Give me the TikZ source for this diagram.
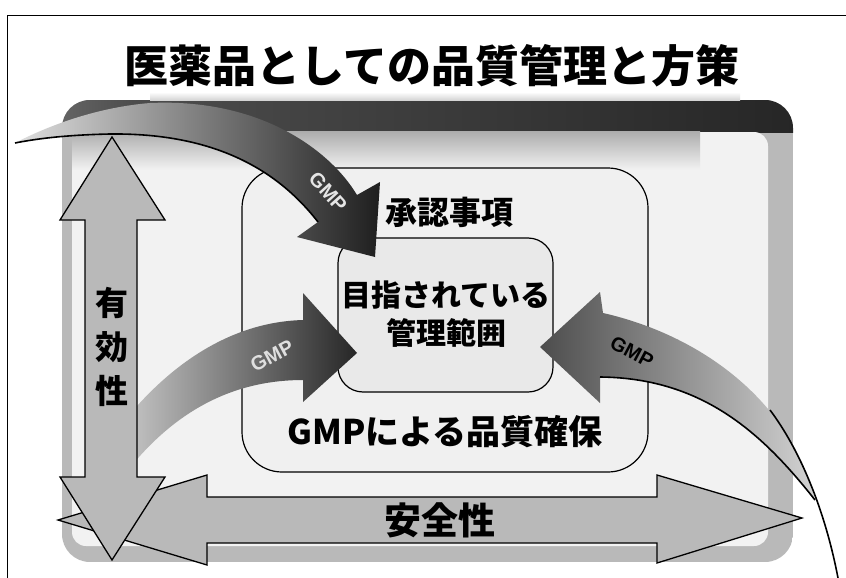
\documentclass[tikz,border=0pt]{standalone}
\usepackage{fontspec}
\newfontfamily\jp{Noto Sans CJK JP}
\newfontfamily\lat{Liberation Sans}
\pgfdeclarehorizontalshading{topband}{100bp}{color(0bp)=(gray!30); color(30bp)=(black!70); color(75bp)=(black!85); color(92bp)=(black!70); color(100bp)=(gray!60)}
\begin{document}
\begin{tikzpicture}[x=1pt,y=-1pt,
  jptext/.style={font={\jp\bfseries\fontsize{#1}{#1}\selectfont}, inner sep=0pt},
  gmplabel/.style={font={\lat\bfseries\fontsize{20}{20}\selectfont}, inner sep=0pt},
  boxline/.style={draw=black, line width=1.2pt},
  bigarrow/.style={fill=gray!55, draw=black, line width=1.3pt, line join=miter},
  edgeline/.style={draw=black, line width=1.6pt}]
\useasboundingbox (0,0) rectangle (846,578);
\fill[white] (0,0) rectangle (846,578);
% outer frame lines
\draw[line width=0.8pt] (7,578) -- (7,15) -- (846,15);
% gray frame
\begin{scope}
  \clip[rounded corners=28] (62,100) rectangle (793,562);
  \fill[gray!55] (62,100) rectangle (793,562);
  \shade[shading=topband] (62,100) rectangle (793,132);
\end{scope}
\shade[top color=white, bottom color=gray!35] (150,92) rectangle (740,100.5);
\fill[gray!10, rounded corners=14] (72,132) rectangle (768,546);
\shade[top color=gray!65, bottom color=gray!10] (72,131) rectangle (700,170);
% boxes
\path[boxline, fill=gray!12, rounded corners=40] (242,168) rectangle (648,472);
\path[boxline, fill=gray!17, rounded corners=25] (338,238) rectangle (553,392);
% horizontal double arrow
\path[bigarrow] (58,520) -- (207,475) -- (207,497) -- (657,497) -- (657,475) -- (802,518)
  -- (657,563) -- (657,543) -- (207,543) -- (207,565) -- cycle;
% left GMP arrow
\shade[left color=gray!45, right color=black!85]
  (125,420) .. controls (170,365) and (230,322) .. (303,320) -- (303,293) -- (357,353)
  -- (303,402) -- (303,380) .. controls (240,380) and (180,405) .. (128,470) -- cycle;
% vertical double arrow
\path[bigarrow] (112,137) -- (165,220) -- (137,220) -- (137,477) -- (165,477) -- (112,560)
  -- (60,477) -- (85,477) -- (85,220) -- (60,220) -- cycle;
% top-left GMP swoosh
\shade[left color=gray!25, right color=black!88]
  (15,143) .. controls (40,130) and (90,108) .. (150,103) .. controls (260,98) and (330,150) .. (357,195)
  -- (380,182) -- (375,257) -- (297,237) -- (318,222)
  .. controls (270,160) and (200,133) .. (110,134) .. controls (60,135) and (30,140) .. (15,143) -- cycle;
\path[edgeline] (318,222) .. controls (270,160) and (200,133) .. (110,134) .. controls (60,135) and (30,140) .. (15,143);
% right GMP arrow
\shade[left color=black!70, right color=gray!35]
  (540,347) -- (600,292) -- (603,313) .. controls (700,335) and (790,400) .. (815,500)
  .. controls (760,430) and (700,378) .. (600,377) -- (600,403) -- cycle;
\path[edgeline] (600,377) .. controls (700,378) and (760,430) .. (815,500);
\path[edgeline] (770,410) .. controls (800,450) and (825,510) .. (838,578);
% texts
\node[jptext=44] (title) at (432,66) {医薬品としての品質管理と方策};
\node[jptext=32] (approved) at (449,212) {承認事項};
\node[jptext=30, align=center, font={\jp\bfseries\fontsize{30}{38}\selectfont}] (target) at (446,314) {目指されている\\管理範囲};
\node[jptext=34] (gmpq) at (445,432) {GMPによる品質確保};
\node[jptext=37] (safety) at (440,520) {安全性};
\node[jptext=33, align=center, font={\jp\bfseries\fontsize{33}{44}\selectfont}] (efficacy) at (112,347) {有\\効\\性};
\node[gmplabel, text=gray!20, rotate=-48] (gmptop) at (328,192) {GMP};
\node[gmplabel, text=gray!25, rotate=28] (gmpleft) at (272,356) {GMP};
\node[gmplabel, text=black, rotate=-28] (gmpright) at (632,352) {GMP};
\end{tikzpicture}
\end{document}
